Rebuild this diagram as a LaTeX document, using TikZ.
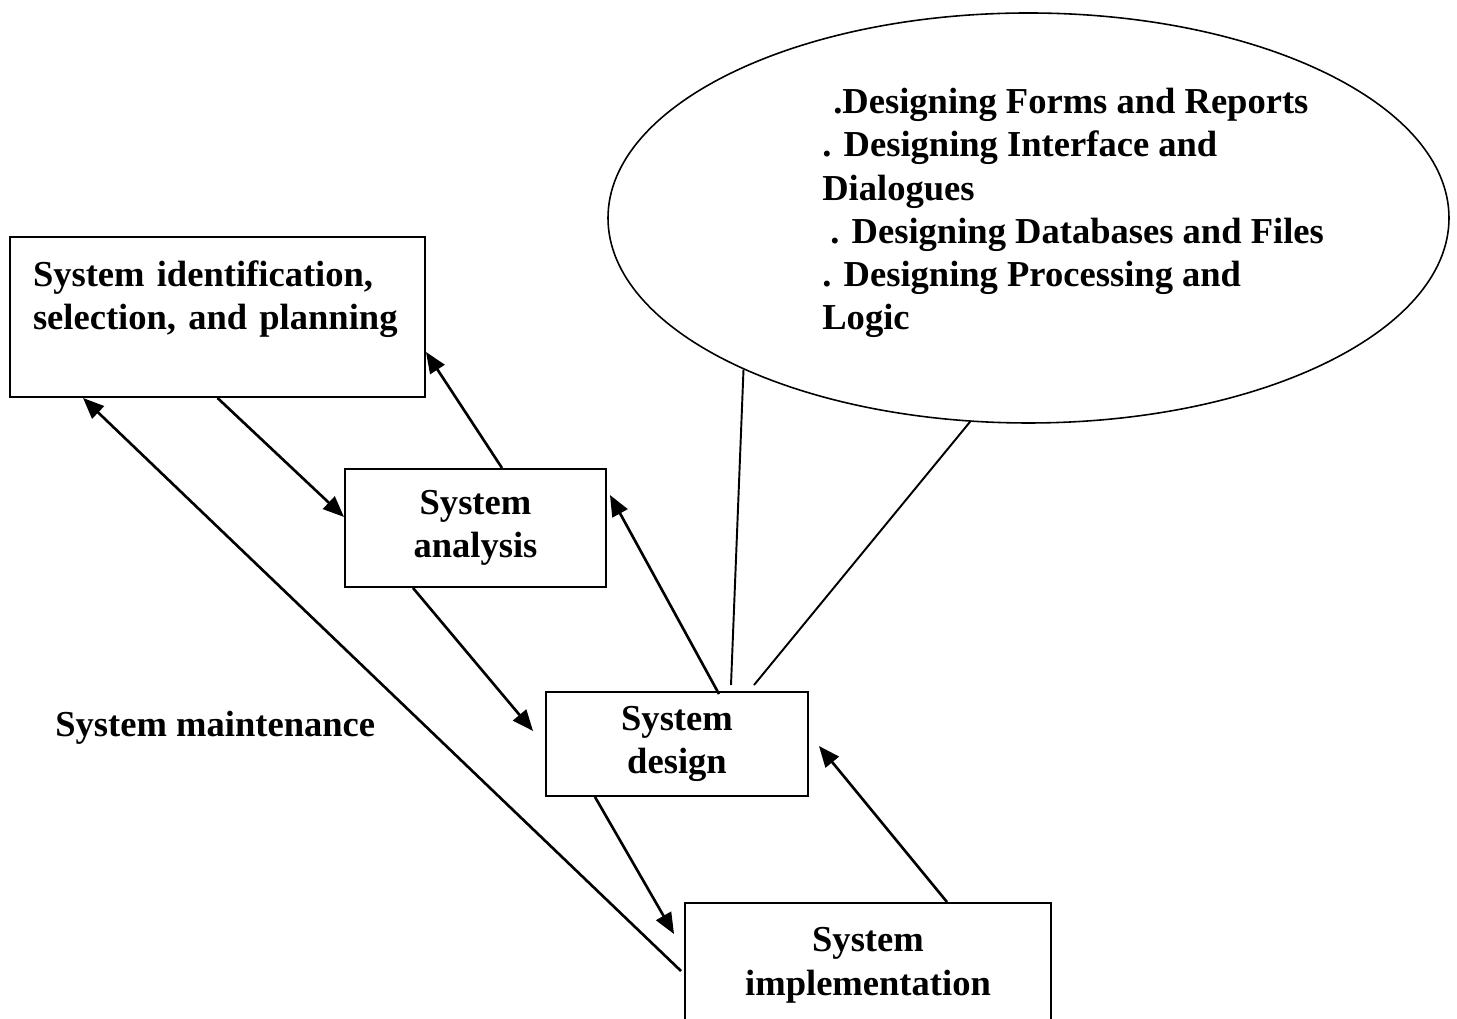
\documentclass[tikz,border=0pt]{standalone}
\usepackage{fontspec}
\setmainfont{Liberation Serif}
\usetikzlibrary{arrows.meta,shapes.geometric}

\begin{document}
\begin{tikzpicture}[
  every node/.style={font=\bfseries\fontsize{20.8}{24.6}\selectfont, inner sep=0pt},
  stage/.style={draw, line width=1.1pt, align=center},
  flow/.style={line width=1.5pt, -{Triangle[length=0.42cm,width=0.34cm]}},
  tie/.style={line width=1.1pt}]
  \clip (0,0) rectangle (29.14,20.38);

  % life cycle stages
  \node[stage, align=left, text width=7.38cm, inner xsep=0.46cm, minimum height=3.2cm]
    (plan) at (4.35,14.04) {System identification,\\selection, and planning\\~};
  \node[stage, minimum width=5.22cm, minimum height=2.36cm] (analysis) at (9.51,9.82) {System\\analysis};
  \node[stage, minimum width=5.24cm, minimum height=2.08cm] (design) at (13.54,5.5) {System\\design};
  \node[stage, minimum width=7.32cm, minimum height=3.2cm] (impl) at (17.36,0.72) {System\\implementation\\~};
  \node[anchor=west] (maint) at (1.1,5.82) {System maintenance};

  % design tasks
  \node[draw, ellipse, line width=0.9pt, minimum width=16.82cm, minimum height=8.2cm] (bubble) at (20.57,16.02) {};
  \node[align=left, anchor=west] (tasks) at (16.44,16.12)
    {\hspace*{.3em}.Designing Forms and Reports\\. Designing Interface and\\Dialogues\\
     \hspace*{.22em}. Designing Databases and Files\\. Designing Processing and\\Logic};
  \draw[tie] (bubble.208) -- ([xshift=1.08cm,yshift=0.12cm]design.north);
  \draw[tie] (bubble.254) -- ([xshift=1.54cm,yshift=0.12cm]design.north);

  % arrows between stages
  \draw[flow] (plan.south) -- ([yshift=0.22cm]analysis.west);
  \draw[flow] ([xshift=0.53cm]analysis.north) -- ([yshift=-0.7cm]plan.east);
  \draw[flow] ([xshift=-1.25cm]analysis.south) -- ([xshift=-0.24cm,yshift=0.26cm]design.west);
  \draw[flow] ([xshift=0.84cm,yshift=-0.06cm]design.north) -- ([xshift=0.06cm,yshift=0.66cm]analysis.east);
  \draw[flow] ([xshift=-1.64cm]design.south) -- ([xshift=-0.2cm,yshift=-0.64cm]impl.north west);
  \draw[flow] ([xshift=1.58cm]impl.north) -- ([xshift=0.2cm,yshift=-0.04cm]design.east);
  \draw[flow] ([xshift=-0.06cm,yshift=-1.38cm]impl.north west) -- ([xshift=-2.69cm]plan.south);
\end{tikzpicture}
\end{document}
